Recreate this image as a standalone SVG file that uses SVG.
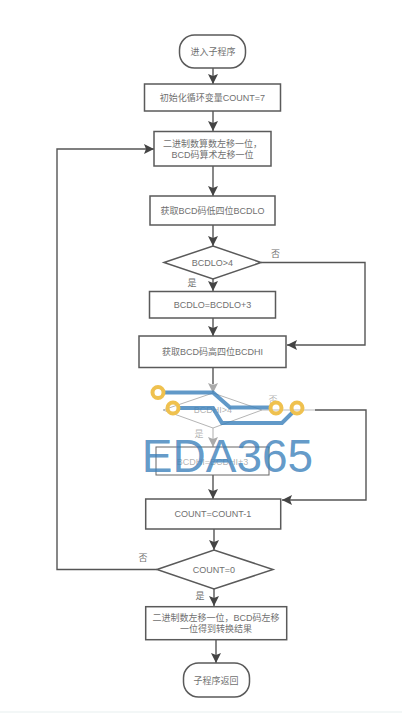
<svg xmlns="http://www.w3.org/2000/svg" width="402" height="713" viewBox="0 0 402 713">
<style>
text{font-family:"Liberation Sans","Noto Sans CJK SC",sans-serif;font-size:9px;fill:#707070;text-anchor:middle}
.s{fill:#fff;stroke:#5a5a5a;stroke-width:1.5}
.c{fill:none;stroke:#555;stroke-width:1.4}
.l{fill:none;stroke:#bbb;stroke-width:1.2}
.f{fill:#fff;stroke:#b5b5b5;stroke-width:1}
.g{fill-opacity:.55}
.t{fill:none;stroke:#3a80ba;stroke-width:4;stroke-opacity:.8}
.o{fill:none;stroke:#efc14f;stroke-width:4}
</style>
<defs>
<marker id="a" markerUnits="userSpaceOnUse" markerWidth="11" markerHeight="10" refX="10" refY="5" orient="auto"><path d="M0 0L10 5L0 10L2 5Z" fill="#444"/></marker>
<marker id="b" markerUnits="userSpaceOnUse" markerWidth="11" markerHeight="10" refX="10" refY="5" orient="auto"><path d="M0 0L10 5L0 10L2 5Z" fill="#aaa"/></marker>
</defs>
<rect width="402" height="713" fill="#fff"/>
<rect y="711" width="402" height="2" fill="#f3f7f7"/>
<g id="connectors">
<path class="c" marker-end="url(#a)" d="M213 68V84"/>
<path class="c" marker-end="url(#a)" d="M213 111V131"/>
<path class="c" marker-end="url(#a)" d="M213 166V196"/>
<path class="c" marker-end="url(#a)" d="M213 225V246"/>
<path class="c" marker-end="url(#a)" d="M213 279V291"/>
<path class="c" marker-end="url(#a)" d="M213 318V336"/>
<path class="c" marker-end="url(#a)" d="M261 262.500H365V345H287"/>
<path class="c" d="M213 367.500V384"/>
<path class="l" marker-end="url(#b)" d="M213 384V393"/>
<path class="l" marker-end="url(#b)" d="M213 428V447"/>
<path class="c" marker-end="url(#a)" d="M213 475V499"/>
<path class="l" d="M262 410H315"/>
<path class="c" marker-end="url(#a)" d="M315 410H366V500H282"/>
<path class="c" marker-end="url(#a)" d="M214 529V550"/>
<path class="c" marker-end="url(#a)" d="M157 569.500H57V149H154"/>
<path class="c" marker-end="url(#a)" d="M214 589V606"/>
<path class="c" marker-end="url(#a)" d="M216 640V663"/>
</g>
<g id="start"><rect class="s" x="179.500" y="35" width="66" height="33" rx="15"/><text x="213" y="55">进入子程序</text></g>
<g id="init"><rect class="s" x="144.500" y="84" width="136" height="27"/><text x="212.500" y="101">初始化循环变量COUNT=7</text></g>
<g id="shift"><rect class="s" x="154" y="131.500" width="117" height="34.500"/><text x="212.500" y="147">二进制数算数左移一位，</text><text x="212.500" y="157.500">BCD码算术左移一位</text></g>
<g id="getlo"><rect class="s" x="150" y="196" width="125" height="29"/><text x="212.500" y="214">获取BCD码低四位BCDLO</text></g>
<g id="declo"><path class="s" d="M164 262.500L213 246L261 262.500L213 279Z"/><text x="212.500" y="266">BCDLO&gt;4</text></g>
<g id="addlo"><rect class="s" x="149.500" y="291.500" width="126" height="26.500"/><text x="212.500" y="308">BCDLO=BCDLO+3</text></g>
<g id="gethi"><rect class="s" x="139" y="336" width="147" height="31.500"/><text x="212.500" y="355">获取BCD码高四位BCDHI</text></g>
<g id="dechi"><path class="f" d="M163 410L213 393L262 410L213 428Z"/><text class="g" x="213" y="413">BCDHI&gt;4</text></g>
<g id="addhi"><rect x="156" y="447" width="113" height="28" fill="#fff" stroke="#666" stroke-width="1"/><text class="g" x="212.500" y="465">BCDHI=BCDHI+3</text></g>
<g id="dec"><rect class="s" x="145.700" y="499" width="135" height="30"/><text x="213" y="517">COUNT=COUNT-1</text></g>
<g id="zero"><path class="s" d="M157 569.500L214 550L273 569.500L214 589Z"/><text x="214" y="573">COUNT=0</text></g>
<g id="final"><rect class="s" x="145.700" y="606.700" width="141" height="33"/><text x="216" y="621">二进制数左移一位，BCD码左移</text><text x="216" y="631.500">一位得到转换结果</text></g>
<g id="end"><rect class="s" x="183.500" y="663" width="66" height="34" rx="15"/><text x="216" y="684">子程序返回</text></g>
<g id="labels"><text x="275.500" y="257">否</text><text x="192" y="285.500">是</text><text class="g" x="273" y="403">否</text><text class="g" x="199" y="437">是</text><text x="143" y="561">否</text><text x="200" y="599">是</text></g>
<g id="watermark">
<path class="t" d="M163 392.500H213L230 407.500H272"/>
<path class="t" d="M178 408H213L222 423H282L293 412"/>
<circle class="o" cx="158" cy="392.500" r="5.500"/><circle class="o" cx="173" cy="408" r="5.500"/><circle class="o" cx="276" cy="408" r="5.500"/><circle class="o" cx="297" cy="408" r="5.500"/>
<text x="227.500" y="472" style="font-size:46px;fill:#3a80ba;fill-opacity:.8">EDA365</text>
</g>
</svg>
